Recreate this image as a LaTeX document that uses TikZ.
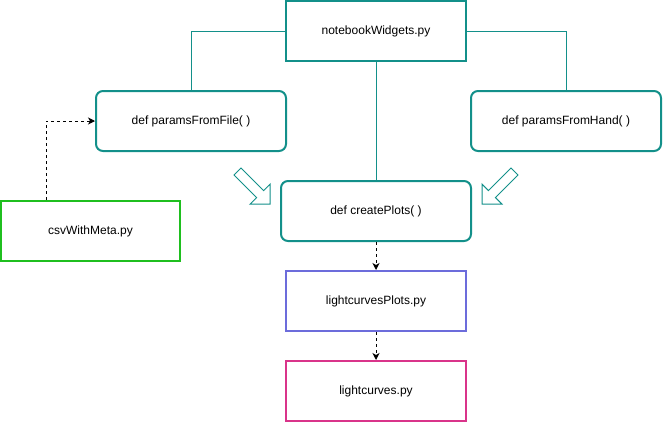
\documentclass[tikz,border=0pt]{standalone}
\usepackage{fontspec}
\setmainfont{Liberation Sans}
\usetikzlibrary{arrows.meta,calc}
\definecolor{teal1}{HTML}{13908A}
\definecolor{green1}{HTML}{1FBF1F}
\definecolor{purple1}{HTML}{6C6CDB}
\definecolor{pink1}{HTML}{D9348A}
\tikzset{
  box/.style={draw, line width=2pt, minimum width=180pt, minimum height=60pt, inner sep=0pt, font=\fontsize{12}{14}\selectfont, text=black},
  rbox/.style={box, rounded corners=7pt, minimum width=190pt},
  conn/.style={draw=teal1, line width=1pt},
  dconn/.style={draw=black, line width=1pt, dash pattern=on 3pt off 3pt, -{Stealth[length=7pt,width=7pt,inset=2pt]}},
  blockarrow/.style={draw=teal1, line width=1pt, fill=white, line join=miter}
}
\begin{document}
\begin{tikzpicture}[x=1pt,y=-1pt]
\useasboundingbox (0,0) rectangle (663,423);
\node[box, draw=teal1] (nb) at (376,31) {notebookWidgets.py};
\node[rbox, draw=teal1] (pf) at (191,121) {def paramsFromFile( )};
\node[rbox, draw=teal1] (ph) at (566,121) {def paramsFromHand( )};
\node[rbox, draw=teal1] (cp) at (376,211) {def createPlots( )};
\node[box, draw=purple1] (lp) at (376,301) {lightcurvesPlots.py};
\node[box, draw=pink1] (lc) at (376,391) {lightcurves.py};
\node[box, draw=green1, minimum width=179pt] (csv) at (90.5,231) {csvWithMeta.py};

\draw[conn] (nb.west) -| (pf.north);
\draw[conn] (nb.east) -| (ph.north);
\draw[conn] (nb.south) -- (cp.north);
\draw[dconn] (cp.south) -- (lp.north);
\draw[dconn] (lp.south) -- (lc.north);
\coordinate (cs) at ([xshift=-44.5pt]csv.north);
\draw[dconn] (cs) |- (pf.west);

% hollow block arrows
\draw[blockarrow] (241.0,168.0) -- (263.6,190.6) -- (270,184.2) -- (270,204) -- (250.2,204) -- (256.6,197.6) -- (234,175) -- cycle;
\draw[blockarrow] (511.0,168.0) -- (488.4,190.6) -- (482,184.2) -- (482,204) -- (501.8,204) -- (495.4,197.6) -- (518,175) -- cycle;
\end{tikzpicture}
\end{document}
